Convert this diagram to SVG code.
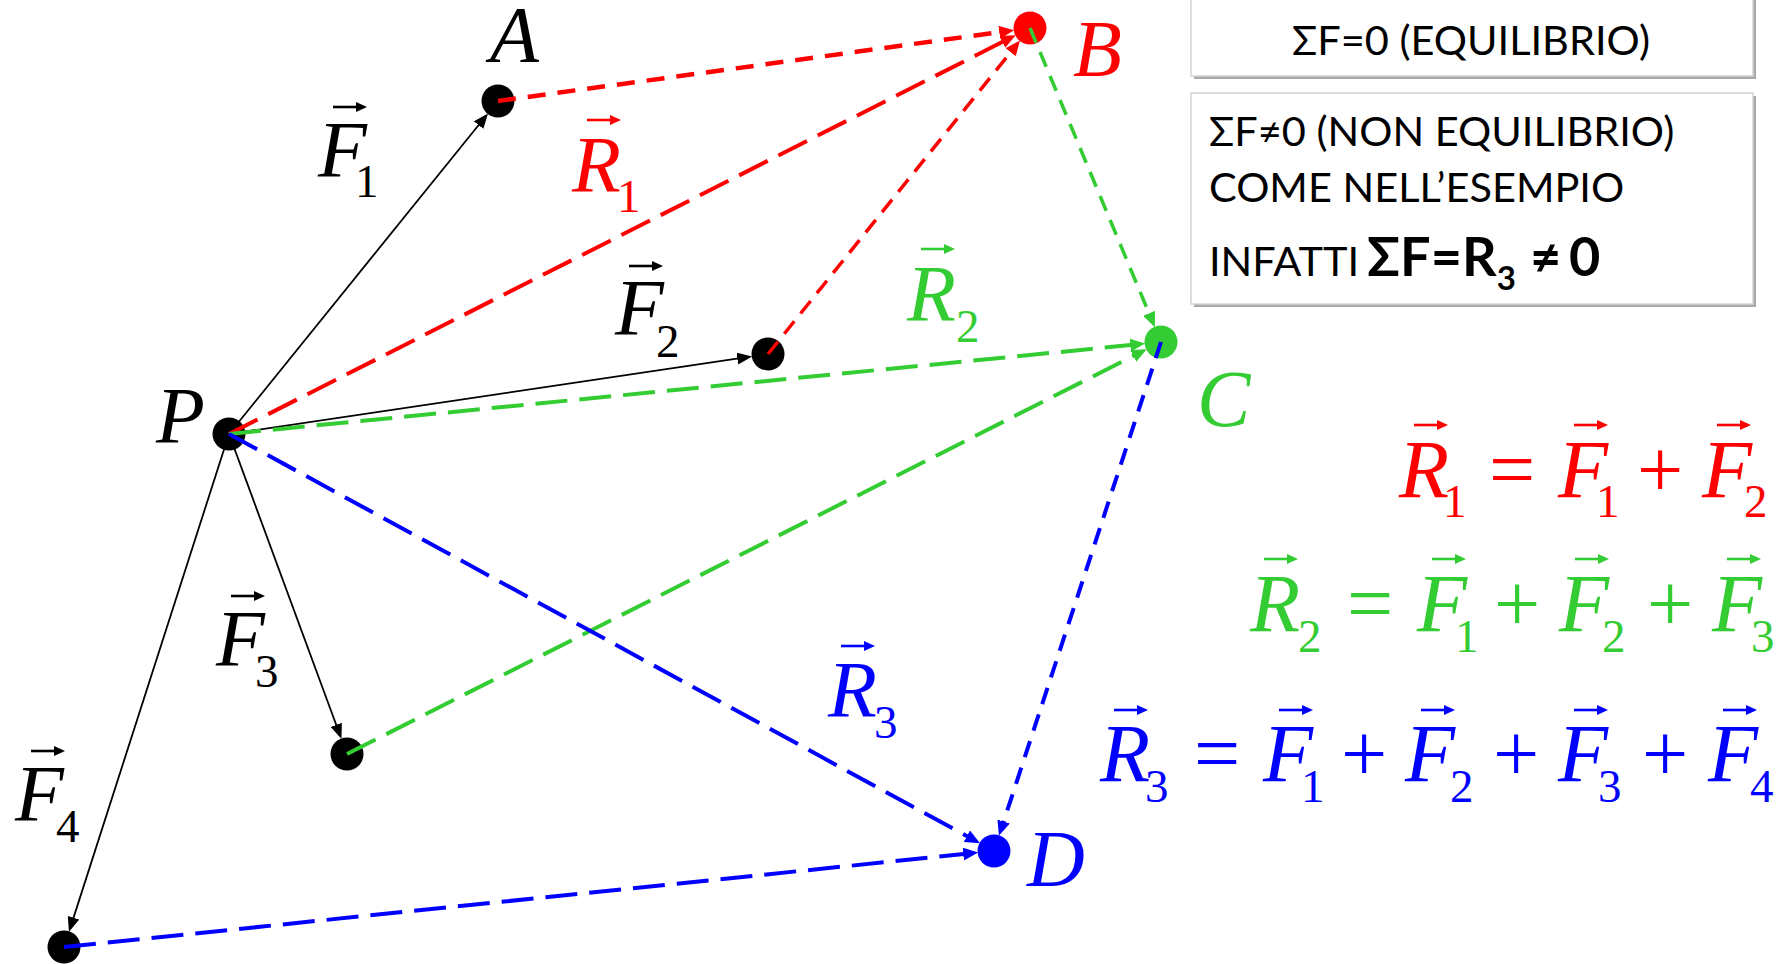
<svg xmlns="http://www.w3.org/2000/svg" xmlns:xlink="http://www.w3.org/1999/xlink" width="1789" height="964" viewBox="0 0 1789 964">
<style>
.it{font-family:"Liberation Serif","Times New Roman",serif;font-style:italic;font-size:80px}
.sub{font-family:"Liberation Serif","Times New Roman",serif;font-style:normal;font-size:47px}
.eqi{font-family:"Liberation Serif","Times New Roman",serif;font-style:italic;font-size:82px}
.eqo{font-family:"Liberation Serif","Times New Roman",serif;font-style:normal;font-size:82px}
.bx{font-family:Lato,"Open Sans","Liberation Sans",sans-serif;font-size:41.5px;fill:#000}
.bxb{font-family:Lato,"Open Sans","Liberation Sans",sans-serif;font-weight:bold;fill:#000}
.k{stroke:#000;stroke-width:1.8;fill:none;marker-end:url(#mk-k)}
.rl{stroke:#f00;stroke-width:4;fill:none;stroke-dasharray:32 12;marker-end:url(#mk-r)}
.rs{stroke:#f00;stroke-width:4.5;fill:none;stroke-dasharray:18 12;marker-end:url(#mk-r)}
.rt{stroke:#f00;stroke-width:3.5;fill:none;stroke-dasharray:16 10;marker-end:url(#mk-r)}
.gl{stroke:#33cc33;stroke-width:4;fill:none;stroke-dasharray:32 12;marker-end:url(#mk-g)}
.gs{stroke:#33cc33;stroke-width:3.5;fill:none;stroke-dasharray:16 10;marker-end:url(#mk-g)}
.bl{stroke:#0000ff;stroke-width:4;fill:none;stroke-dasharray:32 12;marker-end:url(#mk-b)}
.bs{stroke:#0000ff;stroke-width:4;fill:none;stroke-dasharray:17 11;marker-end:url(#mk-b)}
.red{fill:#f00}.grn{fill:#33cc33}.blu{fill:#0000ff}.blk{fill:#000}
</style>
<defs>
<marker id="mk-k" markerUnits="userSpaceOnUse" markerWidth="15" markerHeight="12" refX="3" refY="6" orient="auto"><path d="M0,0 L15,6 L0,12 Z" fill="#000"/></marker>
<marker id="mk-r" markerUnits="userSpaceOnUse" markerWidth="15" markerHeight="13" refX="3" refY="6.5" orient="auto"><path d="M0,0 L15,6.5 L0,13 Z" fill="#f00"/></marker>
<marker id="mk-g" markerUnits="userSpaceOnUse" markerWidth="15" markerHeight="13" refX="3" refY="6.5" orient="auto"><path d="M0,0 L15,6.5 L0,13 Z" fill="#33cc33"/></marker>
<marker id="mk-b" markerUnits="userSpaceOnUse" markerWidth="15" markerHeight="13" refX="3" refY="6.5" orient="auto"><path d="M0,0 L15,6.5 L0,13 Z" fill="#0000ff"/></marker>
<g id="va"><path d="M0,0 H25" stroke-width="2.6" fill="none"/><path d="M23,-5 L34,0 L23,5 Z" stroke="none"/></g>
</defs>
<rect width="1789" height="964" fill="#fff"/>

<!-- boxes -->
<g id="box-equilibrio">
<rect x="1194" y="-6" width="562" height="85" fill="#a8a8a8"/>
<rect x="1191" y="-8" width="562" height="84" fill="#fff" stroke="#d4d4d4" stroke-width="1.5"/>
<text class="bx" x="1471" y="55" text-anchor="middle">ΣF=0 (EQUILIBRIO)</text>
</g>
<g id="box-non-equilibrio">
<rect x="1194" y="96" width="562" height="211" fill="#a8a8a8"/>
<rect x="1191" y="93" width="562" height="211" fill="#fff" stroke="#d4d4d4" stroke-width="1.5"/>
<text class="bx" x="1209" y="146">ΣF≠0 (NON EQUILIBRIO)</text>
<text class="bx" x="1209" y="202">COME NELL’ESEMPIO</text>
<text class="bx" x="1209" y="276">INFATTI <tspan class="bxb" font-size="54" x="1367">ΣF=R</tspan><tspan class="bxb" font-size="33" y="290">3</tspan><tspan class="bxb" font-size="54" x="1530" y="276">≠</tspan><tspan class="bxb" font-size="54" x="1569" y="276">0</tspan></text>
</g>

<!-- nodes -->
<g id="node-P"><circle cx="229" cy="434" r="16.5" class="blk"/><text class="it" x="156" y="443">P</text></g>
<g id="node-A"><circle cx="498" cy="101" r="16.5" class="blk"/><text class="it" x="490" y="62">A</text></g>
<g id="node-B"><circle cx="1030" cy="28" r="16.5" class="red"/><text class="it red" x="1073" y="76">B</text></g>
<g id="node-F2end"><circle cx="768" cy="354" r="16.5" class="blk"/></g>
<g id="node-C"><circle cx="1161" cy="342" r="16.5" class="grn"/><text class="it grn" x="1197" y="426">C</text></g>
<g id="node-F3end"><circle cx="347" cy="754" r="16.5" class="blk"/></g>
<g id="node-F4end"><circle cx="64" cy="947" r="16.5" class="blk"/></g>
<g id="node-D"><circle cx="994" cy="851" r="16.5" class="blu"/><text class="it blu" x="1027" y="886">D</text></g>

<!-- connectors -->
<g id="connectors">
<path class="k" d="M229,434 L480.5,122.8"/>
<path class="k" d="M229,434 L740.3,358.2"/>
<path class="k" d="M229,434 L337.3,727.7"/>
<path class="k" d="M229,434 L72.6,920.6"/>
<path class="rs" d="M498,101 L1002.2,31.8"/>
<path class="rl" d="M229,434 L1005,40.6"/>
<path class="rt" d="M768,354 L1012.5,49.9"/>
<path class="gs" d="M1030,28 L1150.2,316.1"/>
<path class="gl" d="M229,434 L1133.2,344.8"/>
<path class="gl" d="M347,754 L1136,354.6"/>
<path class="bs" d="M1161,342 L1002.7,824.4"/>
<path class="bl" d="M229,434 L969.5,837.6"/>
<path class="bl" d="M64,947 L966.2,853.8"/>
</g>

<!-- vector labels -->
<g id="label-F1" class="blk"><text class="it" x="318" y="177">F<tspan class="sub" x="355" y="197">1</tspan></text><use xlink:href="#va" x="333" y="107" fill="#000" stroke="#000"/></g>
<g id="label-F2" class="blk"><text class="it" x="615" y="335">F<tspan class="sub" x="656" y="357">2</tspan></text><use xlink:href="#va" x="629" y="266" fill="#000" stroke="#000"/></g>
<g id="label-F3" class="blk"><text class="it" x="216" y="666">F<tspan class="sub" x="255" y="687">3</tspan></text><use xlink:href="#va" x="231" y="596" fill="#000" stroke="#000"/></g>
<g id="label-F4" class="blk"><text class="it" x="15" y="821">F<tspan class="sub" x="56" y="842">4</tspan></text><use xlink:href="#va" x="31" y="751" fill="#000" stroke="#000"/></g>
<g id="label-R1" class="red"><text class="it" x="572" y="192">R<tspan class="sub" x="617" y="212">1</tspan></text><use xlink:href="#va" x="587" y="120" fill="#f00" stroke="#f00"/></g>
<g id="label-R2" class="grn"><text class="it" x="907" y="321">R<tspan class="sub" x="956" y="342">2</tspan></text><use xlink:href="#va" x="921" y="249" fill="#33cc33" stroke="#33cc33"/></g>
<g id="label-R3" class="blu"><text class="it" x="828" y="717">R<tspan class="sub" x="874" y="738">3</tspan></text><use xlink:href="#va" x="841" y="646" fill="#0000ff" stroke="#0000ff"/></g>

<!-- equations -->
<g id="eq-R1" class="red">
<text class="eqi" x="1399" y="497">R<tspan class="sub" x="1443" y="517">1</tspan><tspan class="eqo" x="1489" y="497">=</tspan><tspan x="1558" y="497">F</tspan><tspan class="sub" x="1596" y="517">1</tspan><tspan class="eqo" x="1637" y="497">+</tspan><tspan x="1702" y="497">F</tspan><tspan class="sub" x="1744" y="517">2</tspan></text>
<use xlink:href="#va" x="1414" y="425" fill="#f00" stroke="#f00"/>
<use xlink:href="#va" x="1574" y="425" fill="#f00" stroke="#f00"/>
<use xlink:href="#va" x="1717" y="425" fill="#f00" stroke="#f00"/>
</g>
<g id="eq-R2" class="grn">
<text class="eqi" x="1250" y="631">R<tspan class="sub" x="1298" y="652">2</tspan><tspan class="eqo" x="1347" y="631">=</tspan><tspan x="1417" y="631">F</tspan><tspan class="sub" x="1455" y="652">1</tspan><tspan class="eqo" x="1494" y="631">+</tspan><tspan x="1559" y="631">F</tspan><tspan class="sub" x="1602" y="652">2</tspan><tspan class="eqo" x="1647" y="631">+</tspan><tspan x="1712" y="631">F</tspan><tspan class="sub" x="1751" y="652">3</tspan></text>
<use xlink:href="#va" x="1264" y="559" fill="#33cc33" stroke="#33cc33"/>
<use xlink:href="#va" x="1432" y="559" fill="#33cc33" stroke="#33cc33"/>
<use xlink:href="#va" x="1575" y="559" fill="#33cc33" stroke="#33cc33"/>
<use xlink:href="#va" x="1727" y="559" fill="#33cc33" stroke="#33cc33"/>
</g>
<g id="eq-R3" class="blu">
<text class="eqi" x="1100" y="781">R<tspan class="sub" x="1145" y="802">3</tspan><tspan class="eqo" x="1194" y="781">=</tspan><tspan x="1263" y="781">F</tspan><tspan class="sub" x="1301" y="802">1</tspan><tspan class="eqo" x="1341" y="781">+</tspan><tspan x="1405" y="781">F</tspan><tspan class="sub" x="1450" y="802">2</tspan><tspan class="eqo" x="1493" y="781">+</tspan><tspan x="1558" y="781">F</tspan><tspan class="sub" x="1598" y="802">3</tspan><tspan class="eqo" x="1642" y="781">+</tspan><tspan x="1708" y="781">F</tspan><tspan class="sub" x="1750" y="802">4</tspan></text>
<use xlink:href="#va" x="1114" y="710" fill="#0000ff" stroke="#0000ff"/>
<use xlink:href="#va" x="1279" y="710" fill="#0000ff" stroke="#0000ff"/>
<use xlink:href="#va" x="1421" y="710" fill="#0000ff" stroke="#0000ff"/>
<use xlink:href="#va" x="1574" y="710" fill="#0000ff" stroke="#0000ff"/>
<use xlink:href="#va" x="1723" y="710" fill="#0000ff" stroke="#0000ff"/>
</g>
</svg>
